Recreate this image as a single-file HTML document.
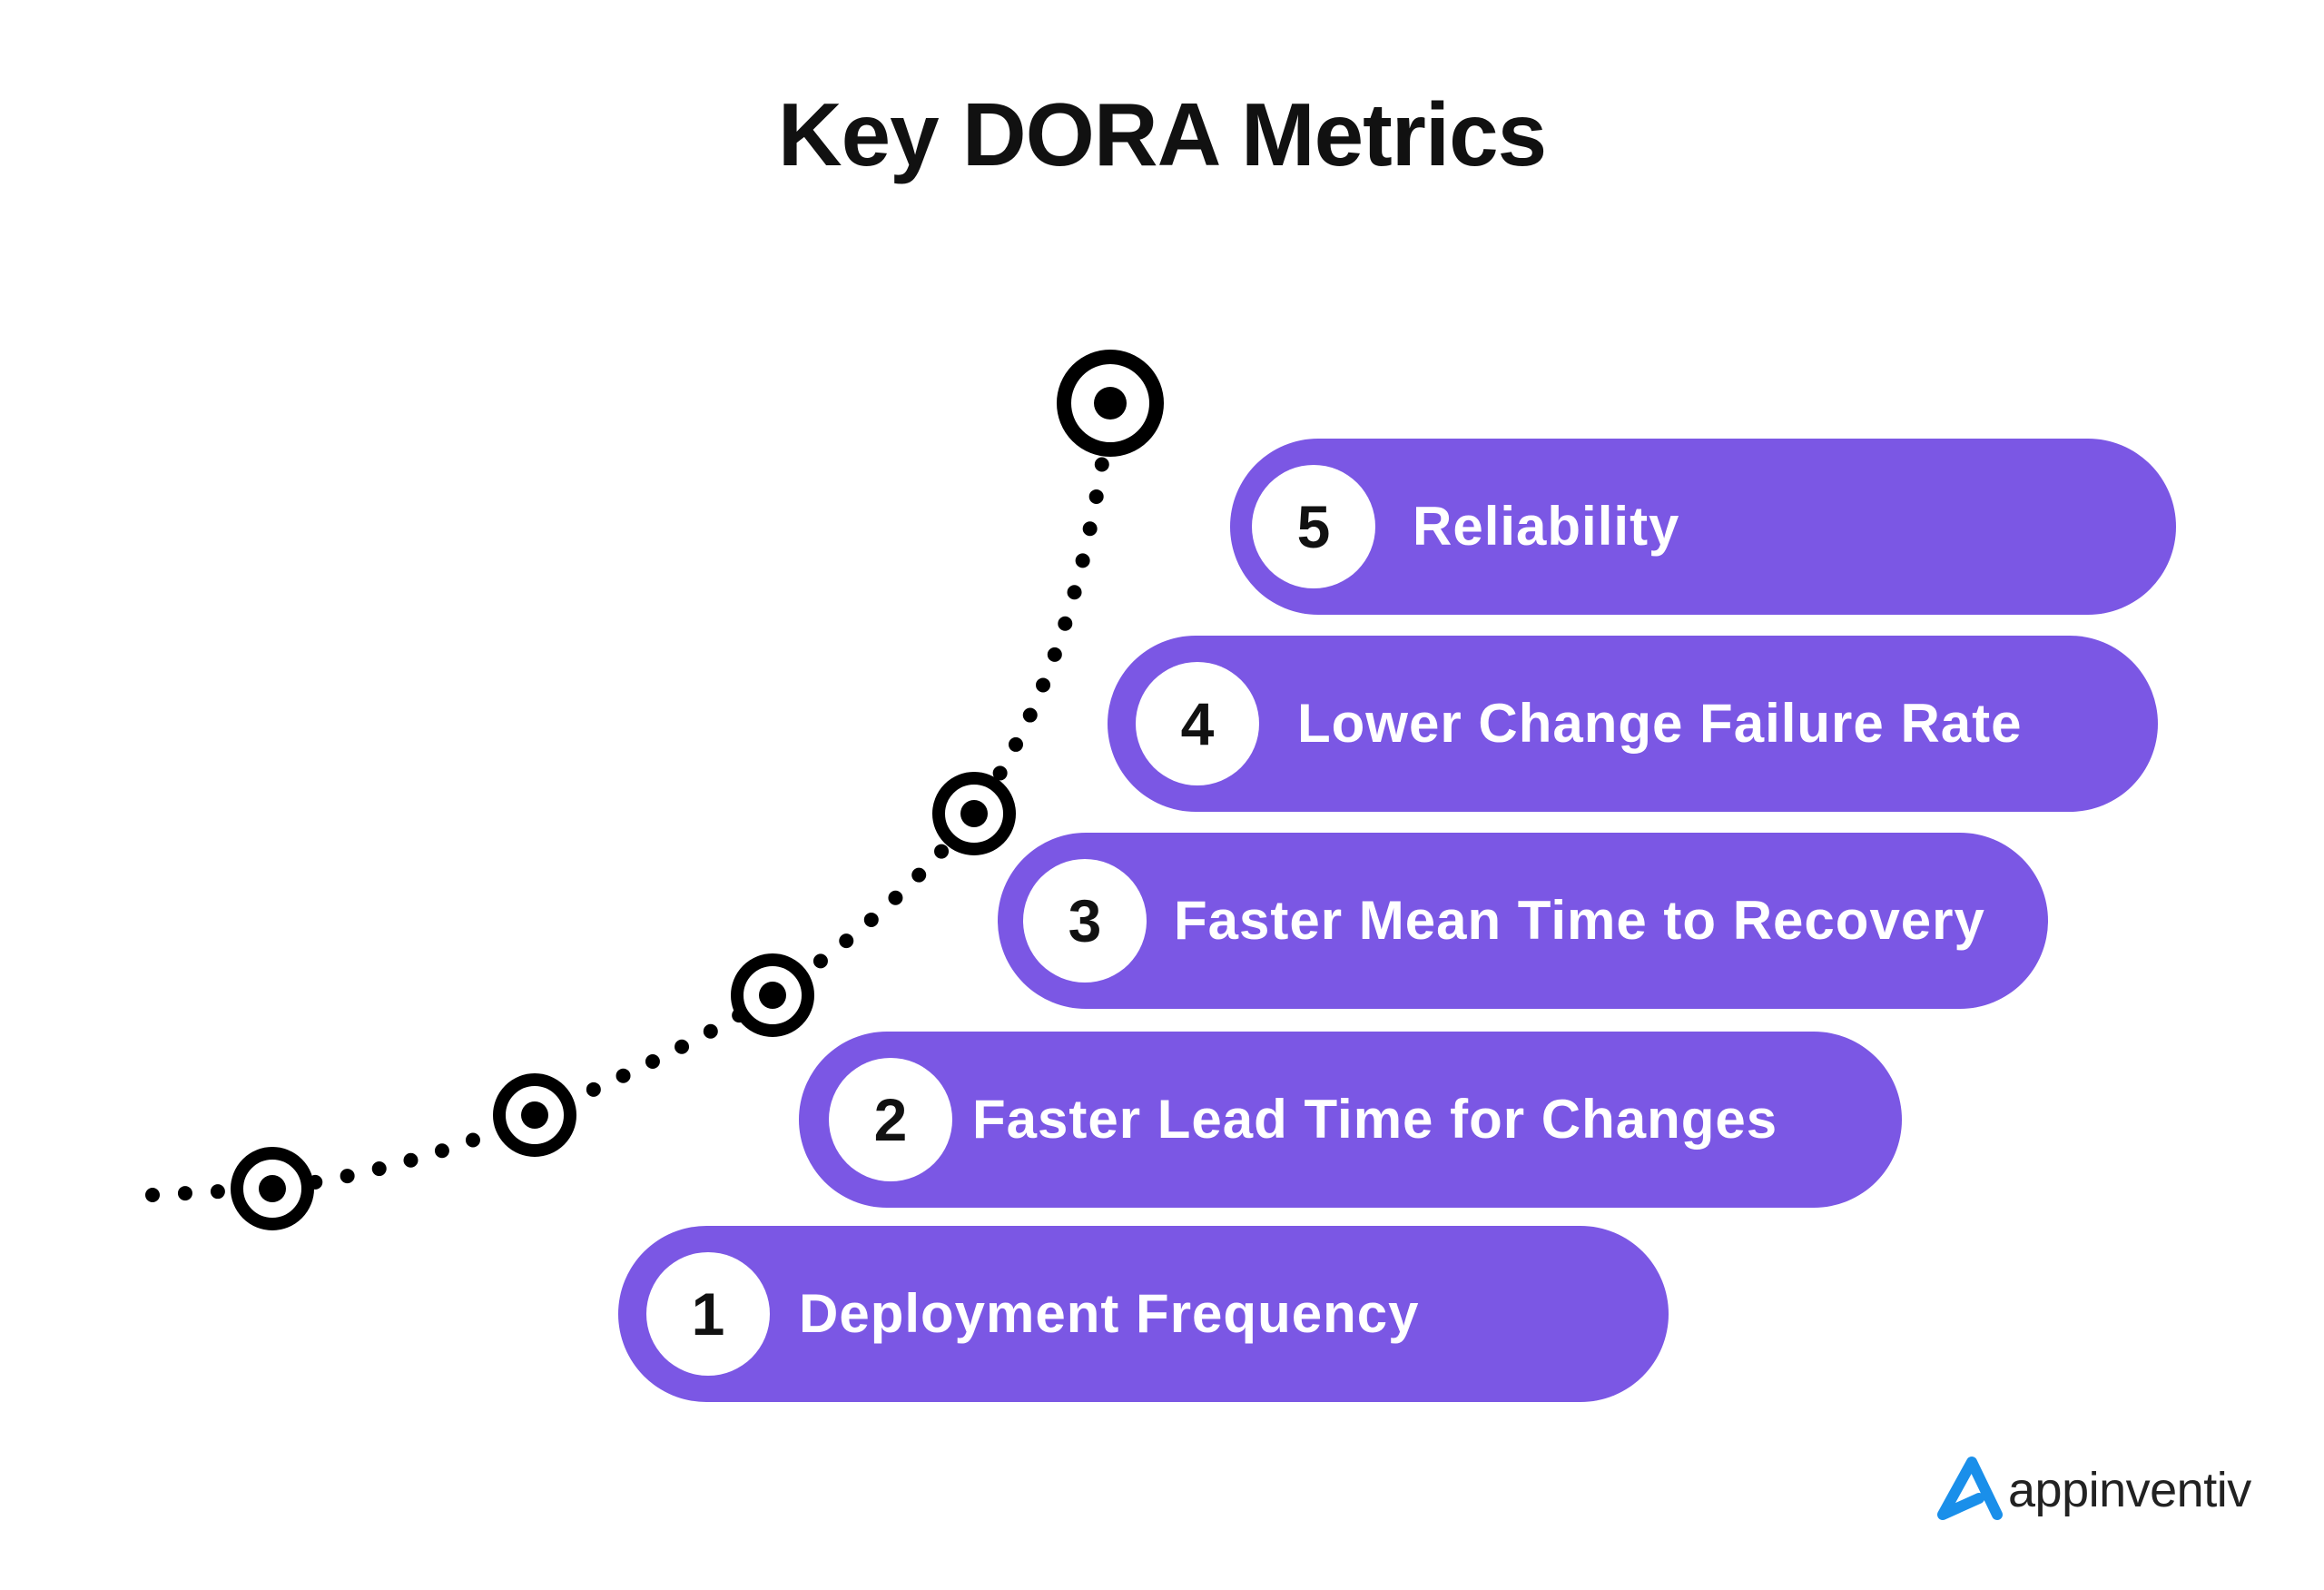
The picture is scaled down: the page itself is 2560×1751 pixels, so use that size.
<!DOCTYPE html>
<html><head><meta charset="utf-8"><style>
html,body{margin:0;padding:0;background:#fff;}
body{width:2560px;height:1751px;position:relative;overflow:hidden;font-family:"Liberation Sans",sans-serif;}
.title{position:absolute;left:0;width:2560px;top:92px;text-align:center;font-size:98px;font-weight:bold;color:#111;letter-spacing:-1px;}
.pill{position:absolute;background:#7b57e4;border-radius:97px;height:194px;}
.num{position:absolute;width:136px;height:136px;border-radius:50%;background:#fff;top:29px;text-align:center;line-height:136px;font-size:66px;font-weight:bold;color:#111;}
.lab{position:absolute;top:0;line-height:194px;font-size:60px;letter-spacing:1px;font-weight:bold;color:#fff;white-space:nowrap;}
.logo{position:absolute;left:2212px;top:1610px;font-size:54px;color:#222;letter-spacing:-0.5px;}
</style></head><body>
<div class="title">Key DORA Metrics</div>

<div class="pill" style="left:1355px;top:483px;width:1042px;"><div class="num" style="left:24px;">5</div><div class="lab" style="left:201px;">Reliability</div></div>
<div class="pill" style="left:1220px;top:700px;width:1157px;"><div class="num" style="left:31px;">4</div><div class="lab" style="left:209px;">Lower Change Failure Rate</div></div>
<div class="pill" style="left:1099px;top:917px;width:1157px;"><div class="num" style="left:28px;">3</div><div class="lab" style="left:194px;">Faster Mean Time to Recovery</div></div>
<div class="pill" style="left:880px;top:1136px;width:1215px;"><div class="num" style="left:33px;">2</div><div class="lab" style="left:191px;">Faster Lead Time for Changes</div></div>
<div class="pill" style="left:681px;top:1350px;width:1157px;"><div class="num" style="left:31px;">1</div><div class="lab" style="left:199px;">Deployment Frequency</div></div>

<svg width="2560" height="1751" style="position:absolute;left:0;top:0;">
<path d="M168 1316 L300 1309 Q450 1290 589 1228 Q740 1165 851 1096 Q980 1010 1073 896 Q1190 730 1223 444" fill="none" stroke="#000" stroke-width="16" stroke-linecap="round" stroke-dasharray="0 36"/>
<g fill="#fff" stroke="#000">
<circle cx="1223" cy="444" r="51" stroke-width="16"/>
<circle cx="1073" cy="896" r="39" stroke-width="14"/>
<circle cx="851" cy="1096" r="39" stroke-width="14"/>
<circle cx="589" cy="1228" r="39" stroke-width="14"/>
<circle cx="300" cy="1309" r="39" stroke-width="14"/>
</g>
<g fill="#000">
<circle cx="1223" cy="444" r="18"/>
<circle cx="1073" cy="896" r="15"/>
<circle cx="851" cy="1096" r="15"/>
<circle cx="589" cy="1228" r="15"/>
<circle cx="300" cy="1309" r="15"/>
</g>
<path d="M2140 1668 L2172 1610 L2200 1668 M2140 1668 L2180 1650" fill="none" stroke="#1a8fea" stroke-width="12" stroke-linecap="round" stroke-linejoin="round"/>
</svg>
<div class="logo">appinventiv</div>
</body></html>
